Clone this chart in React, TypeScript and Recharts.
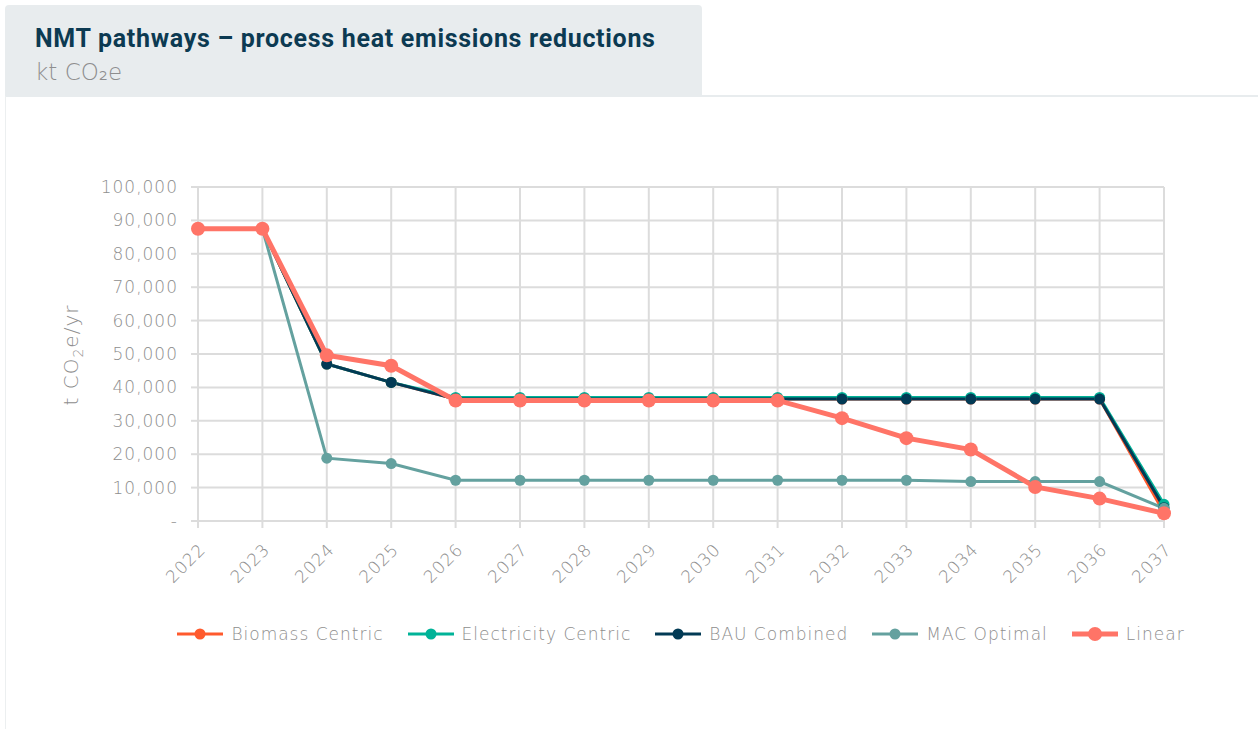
import { CartesianGrid, Line, LineChart, XAxis, YAxis } from 'recharts'

const years = [
  '2022', '2023', '2024', '2025', '2026', '2027', '2028', '2029',
  '2030', '2031', '2032', '2033', '2034', '2035', '2036', '2037',
]

const biomassCentric = [87500, 87500, 47000, 41500, 36500, 36500, 36500, 36500, 36500, 36500, 36500, 36500, 36500, 36500, 36500, 2500]
const electricityCentric = [87500, 87500, 47000, 41500, 37000, 37000, 37000, 37000, 37000, 37000, 37000, 37000, 37000, 37000, 37000, 5000]
const bauCombined = [87500, 87500, 47000, 41500, 36500, 36500, 36500, 36500, 36500, 36500, 36500, 36500, 36500, 36500, 36500, 4000]
const macOptimal = [87500, 87500, 18800, 17200, 12200, 12200, 12200, 12200, 12200, 12200, 12200, 12200, 11800, 11800, 11800, 3800]
const linear = [87500, 87500, 49600, 46500, 36100, 36100, 36100, 36100, 36100, 36100, 30800, 24800, 21400, 10200, 6700, 2300]

const yTicks = [0, 10000, 20000, 30000, 40000, 50000, 60000, 70000, 80000, 90000, 100000]

const series = [
  { key: 'biomass', name: 'Biomass Centric', values: biomassCentric, color: '#ff5a2d', width: 3, r: 5.5 },
  { key: 'electricity', name: 'Electricity Centric', values: electricityCentric, color: '#00b398', width: 3, r: 5.5 },
  { key: 'bau', name: 'BAU Combined', values: bauCombined, color: '#023a55', width: 3, r: 5.5 },
  { key: 'mac', name: 'MAC Optimal', values: macOptimal, color: '#64a19f', width: 3, r: 5.5 },
  { key: 'linear', name: 'Linear', values: linear, color: '#ff7467', width: 5, r: 7 },
]

const data = years.map((year, i) => {
  const row: Record<string, string | number> = { year }
  series.forEach((s) => {
    row[s.key] = s.values[i]
  })
  return row
})

const FONT = '"DejaVu Sans", sans-serif'
const GREY = '#8e8e8e'
const GRID = '#dcdcdc'

const fmt = (v: number) => (v === 0 ? '-' : v.toLocaleString('en-US'))

const tickStyle = { fill: GREY, fontFamily: FONT, fontWeight: 200, fontSize: 17, letterSpacing: 1 }

function YTitle() {
  return (
    <text
      transform="translate(78,355) rotate(-90)"
      textAnchor="middle"
      fill={GREY}
      fontFamily={FONT}
      fontWeight={200}
      fontSize={20}
      letterSpacing={1}
    >
      t CO<tspan fontSize={14} dy={5}>2</tspan>
      <tspan dy={-5}>e/yr</tspan>
    </text>
  )
}

function LegendIcon({ color, width, r }: { color: string; width: number; r: number }) {
  return (
    <svg width={46} height={16} style={{ marginRight: 8 }}>
      <line x1={0} y1={8} x2={46} y2={8} stroke={color} strokeWidth={width} />
      <circle cx={23} cy={8} r={r} fill={color} />
    </svg>
  )
}

export default function App() {
  return (
    <div style={{ position: 'absolute', left: 0, top: 0, width: 1258, height: 729, background: '#fff', overflow: 'hidden' }}>
      <div
        style={{
          position: 'absolute', left: 5, top: 95, width: 1253, height: 640,
          borderTop: '2px solid #e8ecee', borderLeft: '1px solid #eceff0', boxSizing: 'border-box',
        }}
      />
      <div
        style={{
          position: 'absolute', left: 5, top: 5, width: 697, height: 91,
          background: '#e8ecee', borderRadius: '4px 4px 0 0',
        }}
      >
        <div style={{ position: 'absolute', left: 30, top: 19, fontFamily: 'Roboto, sans-serif', fontWeight: 700, fontSize: 25, letterSpacing: 0.7, color: '#0c3a52', whiteSpace: 'nowrap' }}>
          NMT pathways – process heat emissions reductions
        </div>
        <div style={{ position: 'absolute', left: 30, top: 54, fontFamily: FONT, fontWeight: 200, fontSize: 23, color: GREY, whiteSpace: 'nowrap' }}>
          kt CO₂e
        </div>
      </div>

      <LineChart
        width={1258}
        height={729}
        data={data}
        margin={{ top: 187, right: 94, bottom: 0, left: 0 }}
        style={{ position: 'absolute', left: 0, top: 0 }}
      >
        <CartesianGrid stroke={GRID} strokeWidth={2} />
        <XAxis
          dataKey="year"
          height={208}
          interval={0}
          tickSize={7}
          stroke={GRID}
          strokeWidth={2}
          angle={-45}
          textAnchor="end"
          tick={tickStyle}
          tickMargin={14}
        />
        <YAxis
          width={198}
          domain={[0, 100000]}
          ticks={yTicks}
          interval={0}
          tickFormatter={fmt}
          tickSize={7}
          tickMargin={13}
          stroke={GRID}
          strokeWidth={2}
          tick={tickStyle}
        />
        {series.map((s) => (
          <Line
            key={s.key}
            dataKey={s.key}
            name={s.name}
            type="linear"
            stroke={s.color}
            strokeWidth={s.width}
            dot={{ r: s.r, fill: s.color, stroke: 'none' }}
            activeDot={false}
            isAnimationActive={false}
          />
        ))}
        <YTitle />
      </LineChart>

      <div
        style={{
          position: 'absolute', left: 168, top: 624, width: 1026, display: 'flex',
          justifyContent: 'center', gap: 24, alignItems: 'center',
          fontFamily: FONT, fontWeight: 200, fontSize: 17, letterSpacing: 1, color: GREY,
        }}
      >
        {series.map((s) => (
          <div key={s.key} style={{ display: 'flex', alignItems: 'center', whiteSpace: 'nowrap' }}>
            <LegendIcon color={s.color} width={s.width} r={s.r} />
            {s.name}
          </div>
        ))}
      </div>
    </div>
  )
}
